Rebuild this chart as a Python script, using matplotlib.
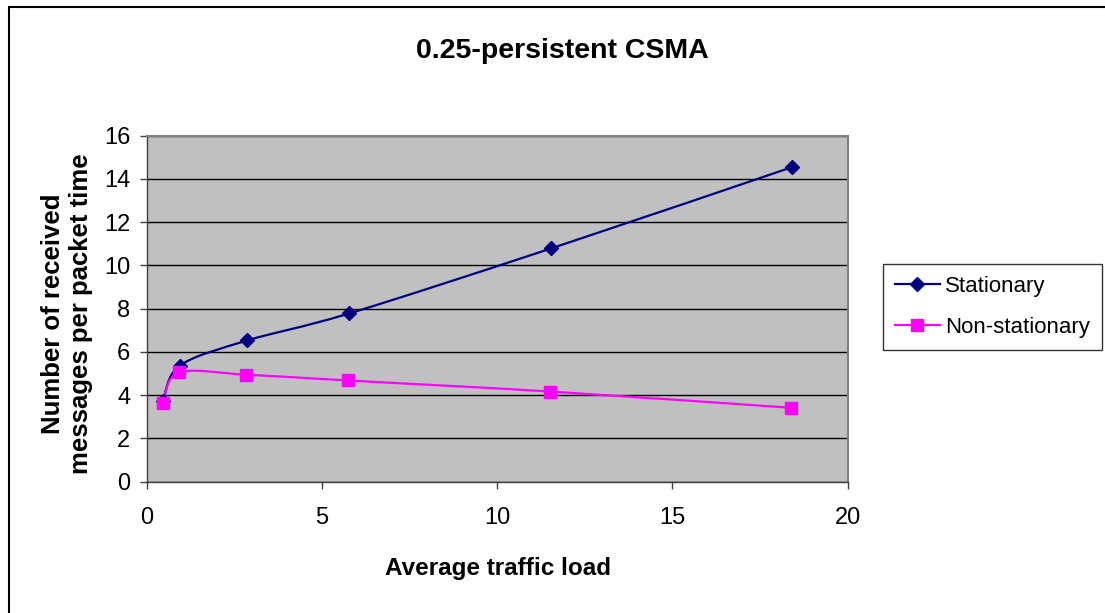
import numpy as np
import matplotlib
matplotlib.use('Agg')
from matplotlib import pyplot as plt
from matplotlib.path import Path
from matplotlib.patches import PathPatch, Rectangle
from matplotlib.lines import Line2D

# values
load_stat = [0.46, 0.94, 2.86, 5.77, 11.54, 18.4]
recv_stat = [3.75, 5.37, 6.53, 7.78, 10.79, 14.54]
load_nonstat = [0.46, 0.91, 2.83, 5.74, 11.5, 18.37]
recv_nonstat = [3.66, 5.05, 4.95, 4.68, 4.17, 3.42]

x_ticks = [0, 5, 10, 15, 20]
y_ticks = [0, 2, 4, 6, 8, 10, 12, 14, 16]

plt.rcParams['font.family'] = ['Liberation Sans', 'DejaVu Sans']


def smooth_path(xs, ys):
    # excel style smoothed line: bezier segments through the points
    pts = np.column_stack([xs, ys])
    n = len(pts)
    verts = [pts[0]]
    codes = [Path.MOVETO]
    for i in range(n - 1):
        p0 = pts[max(i - 1, 0)]
        p1 = pts[i]
        p2 = pts[i + 1]
        p3 = pts[min(i + 2, n - 1)]
        c1 = p1 + (p2 - p0) / 6.0
        c2 = p2 - (p3 - p1) / 6.0
        verts += [c1, c2, p2]
        codes += [Path.CURVE4] * 3
    return Path(verts, codes)


fig = plt.figure(figsize=(11.05, 6.13), dpi=100)
ax = fig.add_axes([0.1330, 0.2142, 0.6341, 0.5644])
ax.set_facecolor('#C0C0C0')

stat_color = '#000080'
nonstat_color = '#FF00FF'

ax.add_patch(PathPatch(smooth_path(load_stat, recv_stat), fill=False,
                       edgecolor=stat_color, lw=1.6, zorder=3))
ax.add_patch(PathPatch(smooth_path(load_nonstat, recv_nonstat), fill=False,
                       edgecolor=nonstat_color, lw=1.6, zorder=3))
ax.plot(load_stat, recv_stat, ls='none', marker='D', ms=7.5, color=stat_color, zorder=4)
ax.plot(load_nonstat, recv_nonstat, ls='none', marker='s', ms=8, color=nonstat_color, zorder=4)

ax.set_xlim(0, 20)
ax.set_ylim(0, 16)
ax.set_xticks(x_ticks)
ax.set_yticks(y_ticks)
ax.yaxis.grid(True, color='black', lw=1)
ax.set_axisbelow(True)
for s in ['top', 'right']:
    ax.spines[s].set_color('#808080')
    ax.spines[s].set_linewidth(1.5)
for s in ['left', 'bottom']:
    ax.spines[s].set_color('#404040')
    ax.spines[s].set_linewidth(1)
ax.tick_params(axis='both', direction='out', length=5, width=1, color='#404040',
               labelsize=17)
ax.tick_params(axis='x', pad=13)
ax.tick_params(axis='y', pad=7)

fig.text(0.5086, 1 - 51 / 613, '0.25-persistent CSMA', ha='center', va='center',
         fontsize=20.5, fontweight='bold')
fig.text(0.4507, 1 - 568 / 613, 'Average traffic load', ha='center', va='center',
         fontsize=17.5, fontweight='bold')
fig.text(67 / 1105, 1 - 314 / 613, 'Number of received\nmessages per packet time',
         ha='center', va='center', rotation=90, fontsize=18.5, fontweight='bold',
         multialignment='center', linespacing=1.2)

handles = [Line2D([], [], color=stat_color, marker='D', ms=7.5, lw=1.6),
           Line2D([], [], color=nonstat_color, marker='s', ms=8, lw=1.6)]
leg = fig.legend(handles, ['Stationary', 'Non-stationary'], loc='upper left',
                 bbox_to_anchor=(883 / 1105, 1 - 264 / 613), borderaxespad=0,
                 fontsize=16, frameon=True, fancybox=False, handlelength=2.0,
                 handletextpad=0.25, borderpad=0.55, labelspacing=0.9)
leg.get_frame().set_edgecolor('black')
leg.get_frame().set_linewidth(1)

# outer chart border
fig.patches.append(Rectangle((9 / 1105, -0.1), 1.2, 1 - 7 / 613 + 0.1,
                             transform=fig.transFigure, fill=False,
                             edgecolor='black', lw=1.5))

fig.savefig('out.png', dpi=100)
